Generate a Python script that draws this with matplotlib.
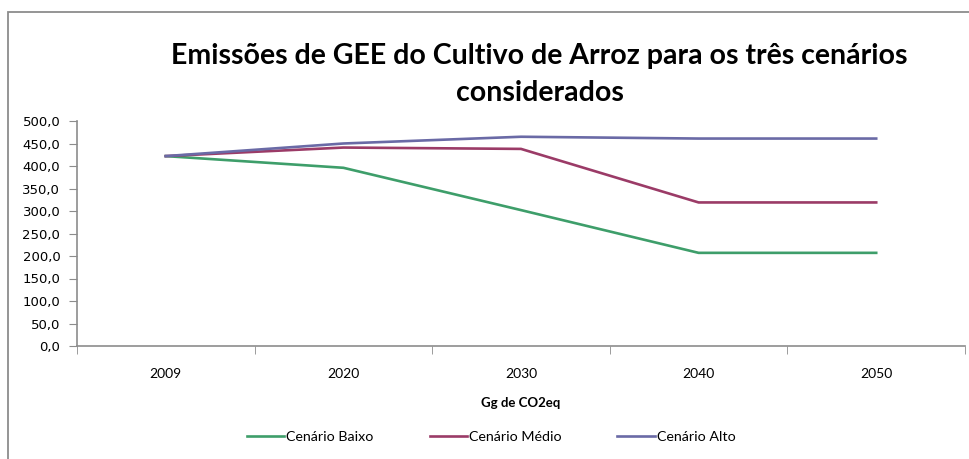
import matplotlib
matplotlib.use("Agg")
import matplotlib.pyplot as plt
from matplotlib.patches import Rectangle
from matplotlib.ticker import FixedLocator, FuncFormatter

# dados
anos = ["2009", "2020", "2030", "2040", "2050"]
baixo = [422, 396, 302, 207, 207]
medio = [422, 441, 438, 319, 319]
alto = [422, 450, 465, 461, 461]

cor_baixo = "#3E9E6A"
cor_medio = "#9B3B67"
cor_alto = "#6A6AA6"
cor_eixo = "#8C8C8C"

fig = plt.figure(figsize=(9.69, 4.59), dpi=100)
ax = fig.add_axes([77 / 969, 1 - 346 / 459, 888 / 969, 225 / 459])

x = range(len(anos))
ax.plot(x, baixo, color=cor_baixo, lw=1.9, label="Cenário Baixo")
ax.plot(x, medio, color=cor_medio, lw=1.9, label="Cenário Médio")
ax.plot(x, alto, color=cor_alto, lw=1.9, label="Cenário Alto")

ax.set_xlim(-0.5, len(anos) - 0.5)
ax.set_ylim(0, 500)
ax.set_yticks(range(0, 501, 50))
ax.yaxis.set_major_formatter(FuncFormatter(lambda v, p: f"{v:.1f}".replace(".", ",")))
for lab in ax.get_yticklabels():
    lab.set_family("DejaVu Sans")
    lab.set_fontsize(9.5)

ax.set_xticks(list(x))
ax.set_xticklabels(anos, family="Lato", fontsize=10)
ax.xaxis.set_minor_locator(FixedLocator([i - 0.5 for i in range(len(anos) + 1)]))
ax.tick_params(axis="x", which="major", length=0, pad=16)
ax.tick_params(axis="x", which="minor", length=6, color=cor_eixo, direction="out")
ax.tick_params(axis="y", length=6, color=cor_eixo, direction="out", pad=6)

for s in ["top", "right"]:
    ax.spines[s].set_visible(False)
for s in ["left", "bottom"]:
    ax.spines[s].set_color(cor_eixo)
    ax.spines[s].set_linewidth(1.2)

ax.set_xlabel("Gg de CO2eq", family="Lato", fontweight="bold", fontsize=9.5, labelpad=12)

fig.text(0.557, 1 - 56 / 459, "Emissões de GEE do Cultivo de Arroz para os três cenários",
         ha="center", va="center", family="Lato", fontweight="bold", fontsize=20.5)
fig.text(0.557, 1 - 93 / 459, "considerados",
         ha="center", va="center", family="Lato", fontweight="bold", fontsize=20.5)

fig.legend(loc="center", bbox_to_anchor=(0.507, 1 - 437 / 459), ncol=3, frameon=False,
           prop={"family": "Lato", "size": 10.3}, handlelength=2.6, handletextpad=0.15,
           columnspacing=3.9)

# borda da área do gráfico
fig.patches.append(Rectangle((8 / 969, -0.1), 1.2, 1.1 - 12 / 459, transform=fig.transFigure,
                             fill=False, edgecolor=cor_eixo, lw=1.3))

fig.savefig("out.png", dpi=100)
